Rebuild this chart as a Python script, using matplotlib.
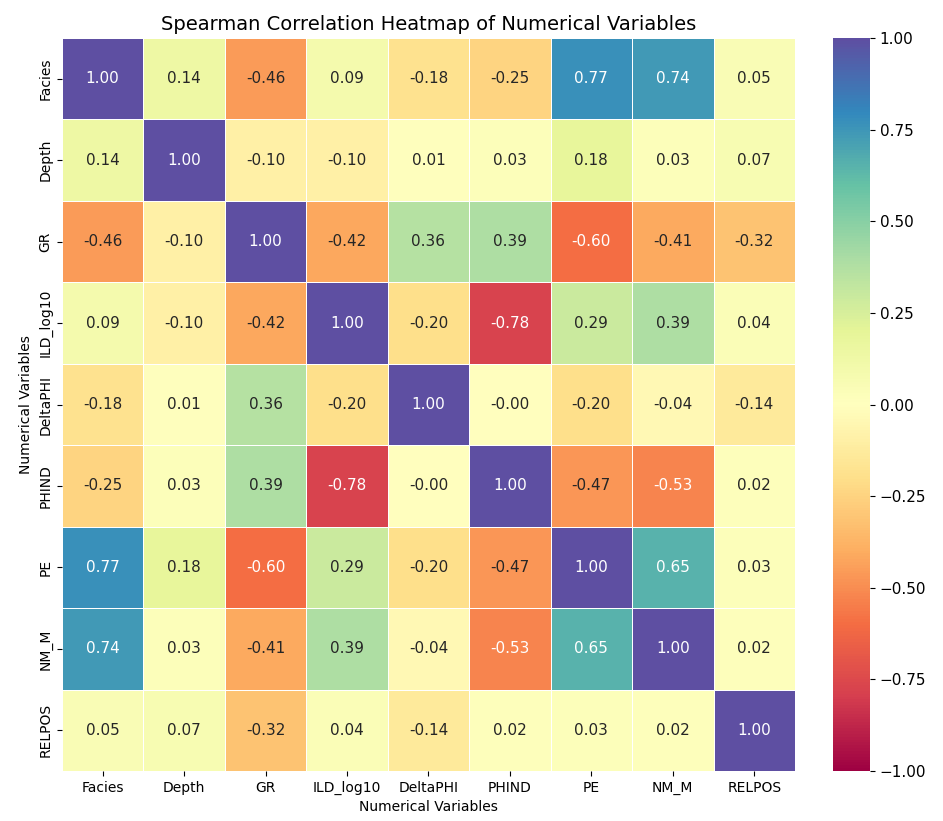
import numpy as np
import pandas as pd
import matplotlib
matplotlib.use('Agg')
import matplotlib.pyplot as plt
import seaborn as sns

variables = ['Facies', 'Depth', 'GR', 'ILD_log10', 'DeltaPHI',
             'PHIND', 'PE', 'NM_M', 'RELPOS']

facies = [1.00, 0.14, -0.46, 0.09, -0.18, -0.25, 0.77, 0.74, 0.05]
depth = [0.14, 1.00, -0.10, -0.10, 0.01, 0.03, 0.18, 0.03, 0.07]
gr = [-0.46, -0.10, 1.00, -0.42, 0.36, 0.39, -0.60, -0.41, -0.32]
ild_log10 = [0.09, -0.10, -0.42, 1.00, -0.20, -0.78, 0.29, 0.39, 0.04]
deltaphi = [-0.18, 0.01, 0.36, -0.20, 1.00, -0.001, -0.20, -0.04, -0.14]
phind = [-0.25, 0.03, 0.39, -0.78, -0.001, 1.00, -0.47, -0.53, 0.02]
pe = [0.77, 0.18, -0.60, 0.29, -0.20, -0.47, 1.00, 0.65, 0.03]
nm_m = [0.74, 0.03, -0.41, 0.39, -0.04, -0.53, 0.65, 1.00, 0.02]
relpos = [0.05, 0.07, -0.32, 0.04, -0.14, 0.02, 0.03, 0.02, 1.00]

corr = pd.DataFrame(
    [facies, depth, gr, ild_log10, deltaphi, phind, pe, nm_m, relpos],
    index=variables, columns=variables)

fig = plt.figure(figsize=(9.43, 8.21), dpi=100)
ax = fig.add_axes([0.0657, 0.0609, 0.7773, 0.8928])
cax = fig.add_axes([0.8834, 0.0609, 0.0392, 0.8928])

sns.heatmap(corr, annot=True, fmt='.2f', cmap='Spectral', vmin=-1, vmax=1,
            linewidths=0.5, linecolor='white', ax=ax, cbar_ax=cax,
            annot_kws={'size': 11})

ax.set_title('Spearman Correlation Heatmap of Numerical Variables',
             fontsize=14)
ax.set_xlabel('Numerical Variables')
ax.set_ylabel('Numerical Variables')
cax.tick_params(labelsize=11)

fig.savefig('out.png', dpi=100)
